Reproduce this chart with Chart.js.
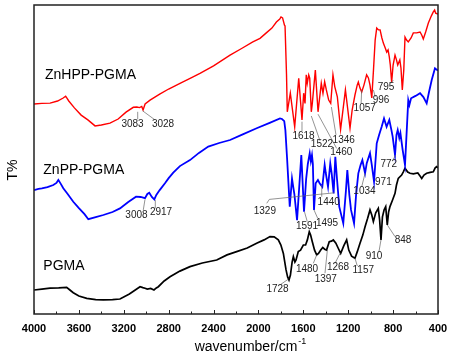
<!DOCTYPE html>
<html>
<head>
<meta charset="utf-8">
<script src="https://cdn.jsdelivr.net/npm/chart.js@4.4.1/dist/chart.umd.min.js"></script>
<style>
  html, body { margin: 0; padding: 0; background: #fff; }
  canvas { display: block; }
</style>
</head>
<body>
<canvas id="ftir" width="463" height="363"></canvas>
<script>
// FTIR spectra, transmittance in arbitrary units (no y tick labels on the original)
const wnRed = [4000, 3930, 3857, 3790, 3740, 3718, 3690, 3640, 3580, 3520, 3456, 3400, 3323, 3250, 3180, 3115, 3083, 3060, 3040, 3028, 3010, 2966, 2880, 2800, 2699, 2600, 2521, 2400, 2253, 2150, 2050, 1986, 1930, 1880, 1840, 1810, 1799, 1785, 1768, 1763, 1750, 1743, 1716, 1677, 1641, 1612, 1597, 1585, 1574, 1565, 1552, 1543, 1529, 1520, 1493, 1469, 1440, 1425, 1410, 1395, 1374, 1356, 1336, 1320, 1297, 1268, 1225, 1184, 1165, 1140, 1120, 1110, 1095, 1080, 1060, 1036, 1020, 1006, 990, 975, 960, 946, 930, 916, 900, 887, 870, 857, 845, 834, 825, 813, 800, 783, 770, 759, 740, 730, 718, 705, 694, 680, 665, 640, 620, 590, 560, 545, 531, 510, 486, 460, 442, 430, 421, 400];
const tRed = [70.0, 70.2, 70.3, 71.0, 72.0, 72.6, 71.0, 68.7, 66.3, 64.7, 62.7, 63.0, 63.6, 65.0, 67.3, 68.9, 69.0, 68.8, 69.2, 68.0, 70.0, 71.3, 73.3, 75.0, 76.9, 78.7, 80.2, 82.7, 86.3, 88.5, 90.7, 91.9, 93.7, 95.3, 97.3, 98.3, 99.0, 98.7, 96.3, 96.0, 80.0, 67.4, 73.6, 62.4, 78.6, 64.7, 73.6, 70.2, 79.7, 76.9, 79.7, 78.6, 67.4, 70.2, 81.3, 67.4, 76.9, 73.6, 77.4, 74.7, 71.3, 70.2, 79.7, 75.8, 72.4, 61.5, 74.7, 62.0, 68.0, 73.0, 76.3, 77.3, 75.3, 74.0, 76.3, 79.7, 78.7, 76.3, 72.0, 81.3, 91.3, 95.3, 94.7, 94.7, 92.0, 90.3, 88.7, 87.3, 88.0, 85.7, 83.0, 77.3, 83.0, 86.3, 84.7, 83.0, 84.7, 82.0, 74.7, 81.3, 92.3, 91.3, 90.7, 92.0, 93.7, 93.7, 94.0, 93.0, 91.7, 94.0, 97.0, 99.3, 100.7, 101.3, 100.3, 100.0];

const wnBlue = [4000, 3960, 3930, 3880, 3828, 3800, 3783, 3760, 3739, 3700, 3650, 3600, 3550, 3516, 3450, 3382, 3300, 3234, 3160, 3091, 3050, 3011, 2990, 2973, 2950, 2928, 2910, 2880, 2833, 2800, 2759, 2700, 2610, 2530, 2447, 2350, 2253, 2150, 2016, 1900, 1808, 1790, 1770, 1760, 1745, 1721, 1701, 1690, 1680, 1656, 1618, 1594, 1575, 1560, 1543, 1533, 1523, 1515, 1505, 1490, 1470, 1455, 1431, 1410, 1400, 1380, 1360, 1347, 1330, 1315, 1300, 1280, 1244, 1220, 1208, 1190, 1175, 1148, 1130, 1110, 1090, 1074, 1050, 1035, 1006, 990, 970, 946, 925, 902, 881, 858, 834, 815, 804, 783, 770, 759, 745, 735, 715, 694, 665, 655, 640, 600, 560, 530, 501, 480, 456, 427, 406, 400];
const tBlue = [41.3, 41.7, 41.9, 42.3, 43.0, 43.7, 44.7, 43.3, 41.9, 40.0, 37.4, 35.3, 33.3, 31.6, 32.3, 33.0, 34.0, 35.2, 37.3, 39.1, 39.0, 38.6, 40.0, 40.4, 39.0, 38.2, 39.7, 41.3, 43.6, 45.3, 47.1, 49.3, 51.3, 53.7, 55.8, 57.0, 58.0, 59.7, 61.9, 63.7, 65.2, 65.0, 64.3, 61.3, 52.0, 35.8, 45.2, 42.4, 40.0, 31.3, 53.0, 34.1, 45.0, 50.0, 53.6, 50.9, 53.0, 50.0, 34.7, 43.6, 44.7, 43.6, 42.4, 49.7, 47.0, 42.4, 50.2, 46.7, 40.2, 52.4, 45.0, 35.8, 30.2, 41.3, 48.0, 39.7, 34.7, 30.2, 39.7, 46.9, 49.7, 51.3, 46.9, 50.3, 53.6, 49.7, 44.1, 56.9, 59.7, 62.4, 65.2, 62.4, 64.7, 61.3, 59.1, 53.0, 59.7, 61.3, 58.7, 60.3, 54.7, 49.7, 71.3, 69.7, 71.9, 72.7, 73.6, 72.3, 70.2, 74.0, 78.0, 81.9, 81.3, 81.3];

const wnBlack = [4000, 3930, 3857, 3780, 3709, 3680, 3650, 3600, 3530, 3450, 3382, 3300, 3234, 3150, 3055, 3030, 3011, 2990, 2960, 2931, 2910, 2892, 2840, 2788, 2700, 2610, 2500, 2372, 2280, 2194, 2100, 2016, 1950, 1897, 1860, 1823, 1800, 1778, 1754, 1740, 1728, 1715, 1700, 1689, 1675, 1665, 1645, 1625, 1600, 1580, 1564, 1547, 1535, 1520, 1500, 1481, 1465, 1445, 1427, 1410, 1393, 1369, 1350, 1333, 1310, 1290, 1267, 1240, 1214, 1195, 1170, 1140, 1120, 1095, 1070, 1050, 1027, 1006, 990, 976, 955, 932, 920, 908, 895, 880, 866, 852, 840, 828, 805, 783, 770, 754, 724, 710, 694, 670, 649, 620, 580, 560, 545, 525, 501, 470, 442, 425, 412, 400];
const tBlack = [8.0, 8.3, 8.6, 8.7, 8.9, 8.0, 7.1, 6.0, 5.2, 4.8, 4.7, 4.8, 5.0, 6.7, 9.1, 8.8, 8.6, 8.3, 8.5, 8.0, 8.7, 9.1, 11.0, 12.4, 14.3, 15.8, 17.0, 18.0, 19.7, 20.8, 22.0, 23.6, 24.7, 25.8, 25.7, 24.7, 23.0, 20.2, 14.7, 12.3, 11.3, 13.0, 17.3, 19.1, 17.3, 18.0, 20.8, 21.3, 23.0, 23.0, 24.7, 27.4, 26.3, 24.1, 21.3, 19.7, 20.2, 21.3, 22.2, 21.6, 21.3, 24.1, 24.3, 24.7, 23.6, 22.0, 20.2, 22.7, 24.7, 21.3, 19.3, 18.6, 20.7, 23.6, 26.3, 29.1, 31.9, 34.7, 33.0, 30.8, 33.7, 35.2, 31.3, 24.7, 32.4, 34.7, 35.8, 29.7, 34.0, 35.8, 38.0, 40.2, 43.0, 45.2, 46.3, 47.3, 48.6, 47.3, 46.9, 46.7, 47.0, 46.0, 45.2, 46.3, 46.9, 47.2, 47.4, 48.7, 49.1, 48.7];

const seriesNames = ['ZnHPP-PGMA', 'ZnPP-PGMA', 'PGMA'];
const seriesColors = ['#ff0000', '#0000ff', '#000000'];
// where each series name is written: [left wavenumber, T]
const nameAt = [[3902, 79.7], [3917, 48.0], [3917, 15.8]];

// peak labels: text, label centre [wn, T], leader line points [[wn, T], ...]
const peakLabels = [
  ['3083', 3122, 63.2, [[3076, 67.4], [3076, 64.9]]],
  ['3028', 2850, 63.2, [[3031, 67.7], [2922, 64.7]]],
  ['1618', 1598, 59.4, [[1612, 64.1], [1612, 61.0]]],
  ['1522', 1434, 56.6, [[1529, 66.0], [1451, 57.7]]],
  ['1346', 1240, 58.0, [[1350, 69.0], [1309, 59.7]]],
  ['1460', 1262, 53.8, [[1469, 66.6], [1303, 55.2]]],
  ['1057', 1053, 68.6, [[1080, 74.7], [1085, 70.3]]],
  ['996', 908, 71.3, [[976, 74.7], [959, 72.4]]],
  ['795', 863, 75.6, [[798, 78.0], [821, 76.9]]],
  ['3008', 3087, 33.0, [[3011, 38.2], [3026, 34.7]]],
  ['2917', 2868, 33.9, [[2919, 38.0], [2919, 35.2]]],
  ['1329', 1943, 34.4, [[1926, 36.9], [1903, 38.2], [1324, 40.4]]],
  ['1440', 1374, 37.1, [[1436, 43.0], [1436, 39.1]]],
  ['1591', 1567, 29.4, [[1590, 34.1], [1565, 30.8]]],
  ['1495', 1389, 30.4, [[1505, 34.7], [1472, 31.9]]],
  ['1034', 1055, 40.8, [[1050, 46.9], [1080, 42.4]]],
  ['971', 887, 43.9, []],
  ['772', 839, 49.9, [[777, 53.0], [798, 51.6]]],
  ['1728', 1830, 8.2, [[1734, 11.6], [1808, 9.7]]],
  ['1480', 1567, 15.0, [[1481, 19.7], [1511, 16.9]]],
  ['1397', 1400, 11.7, [[1386, 21.3], [1407, 13.6]]],
  ['1268', 1291, 15.6, [[1273, 20.2], [1318, 16.9]]],
  ['1157', 1066, 14.7, [[1140, 18.6], [1119, 16.0]]],
  ['910', 970, 19.1, [[908, 24.7], [926, 20.8]]],
  ['848', 712, 24.7, [[852, 29.7], [783, 25.8]]]
];

const FONT = '"Liberation Sans", Arial, Helvetica, sans-serif';

function toPoints(wn, t) {
  return wn.map((w, i) => ({ x: w, y: t[i] }));
}

const decorations = {
  id: 'decorations',
  afterDatasetsDraw(chart) {
    const ctx = chart.ctx;
    const xs = chart.scales.x;
    const ys = chart.scales.y;
    const area = chart.chartArea;
    ctx.save();

    // leader lines + peak numbers
    ctx.strokeStyle = '#666';
    ctx.lineWidth = 0.7;
    peakLabels.forEach(([txt, w, t, pts]) => {
      if (pts.length > 1) {
        ctx.beginPath();
        pts.forEach(([pw, pt], i) => {
          const px = xs.getPixelForValue(pw);
          const py = ys.getPixelForValue(pt);
          if (i === 0) ctx.moveTo(px, py);
          else ctx.lineTo(px, py);
        });
        ctx.stroke();
      }
    });
    ctx.fillStyle = '#222';
    ctx.font = '10px ' + FONT;
    ctx.textAlign = 'center';
    ctx.textBaseline = 'middle';
    peakLabels.forEach(([txt, w, t]) => {
      ctx.fillText(txt, xs.getPixelForValue(w), ys.getPixelForValue(t));
    });

    // series names
    ctx.fillStyle = '#000';
    ctx.font = '14px ' + FONT;
    ctx.textAlign = 'left';
    seriesNames.forEach((name, i) => {
      ctx.fillText(name, xs.getPixelForValue(nameAt[i][0]), ys.getPixelForValue(nameAt[i][1]));
    });

    // frame
    ctx.strokeStyle = '#222';
    ctx.lineWidth = 1.5;
    ctx.strokeRect(area.left, area.top, area.right - area.left, area.bottom - area.top);

    // inward tick marks on bottom axis
    ctx.lineWidth = 1;
    for (let v = 400; v <= 4000; v += 200) {
      const px = Math.round(xs.getPixelForValue(v)) + 0.5;
      const len = v % 400 === 0 ? 4 : 2.5;
      ctx.beginPath();
      ctx.moveTo(px, area.bottom);
      ctx.lineTo(px, area.bottom - len);
      ctx.stroke();
    }

    // axis titles
    ctx.fillStyle = '#000';
    ctx.font = '14px ' + FONT;
    ctx.textAlign = 'left';
    ctx.textBaseline = 'alphabetic';
    const main = 'wavenumber/cm';
    const sup = '-1';
    const mw = ctx.measureText(main).width;
    ctx.font = '9px ' + FONT;
    const sw = ctx.measureText(sup).width;
    const cx = (area.left + area.right) / 2 + 14;
    const x0 = cx - (mw + sw) / 2;
    ctx.font = '14px ' + FONT;
    ctx.fillText(main, x0, 351);
    ctx.font = '9px ' + FONT;
    ctx.fillText(sup, x0 + mw + 1, 344);

    ctx.font = '14px ' + FONT;
    ctx.translate(13, 170);
    ctx.rotate(-Math.PI / 2);
    ctx.textAlign = 'center';
    ctx.textBaseline = 'middle';
    ctx.fillText('T%', 0, 0);

    ctx.restore();
  }
};

new Chart(document.getElementById('ftir'), {
  type: 'line',
  data: {
    datasets: [
      { label: seriesNames[0], data: toPoints(wnRed, tRed), borderColor: seriesColors[0], borderWidth: 1.4 },
      { label: seriesNames[1], data: toPoints(wnBlue, tBlue), borderColor: seriesColors[1], borderWidth: 1.8 },
      { label: seriesNames[2], data: toPoints(wnBlack, tBlack), borderColor: seriesColors[2], borderWidth: 1.7 }
    ]
  },
  options: {
    responsive: false,
    animation: false,
    devicePixelRatio: 1,
    layout: { padding: { left: 34, top: 5, right: 25, bottom: 0 } },
    elements: {
      point: { radius: 0 },
      line: { tension: 0, fill: false }
    },
    plugins: {
      legend: { display: false },
      tooltip: { enabled: false }
    },
    scales: {
      x: {
        type: 'linear',
        reverse: true,
        min: 400,
        max: 4000,
        grid: { display: false, drawTicks: false },
        border: { display: false },
        ticks: {
          stepSize: 200,
          autoSkip: false,
          maxRotation: 0,
          padding: 8,
          color: '#000',
          font: { family: FONT, size: 11, weight: 'bold' },
          callback: v => (v % 400 === 0 ? String(v) : '')
        },
        afterFit: s => { s.height = 49; }
      },
      y: {
        display: false,
        min: 0,
        max: 103
      }
    }
  },
  plugins: [decorations]
});
</script>
</body>
</html>
